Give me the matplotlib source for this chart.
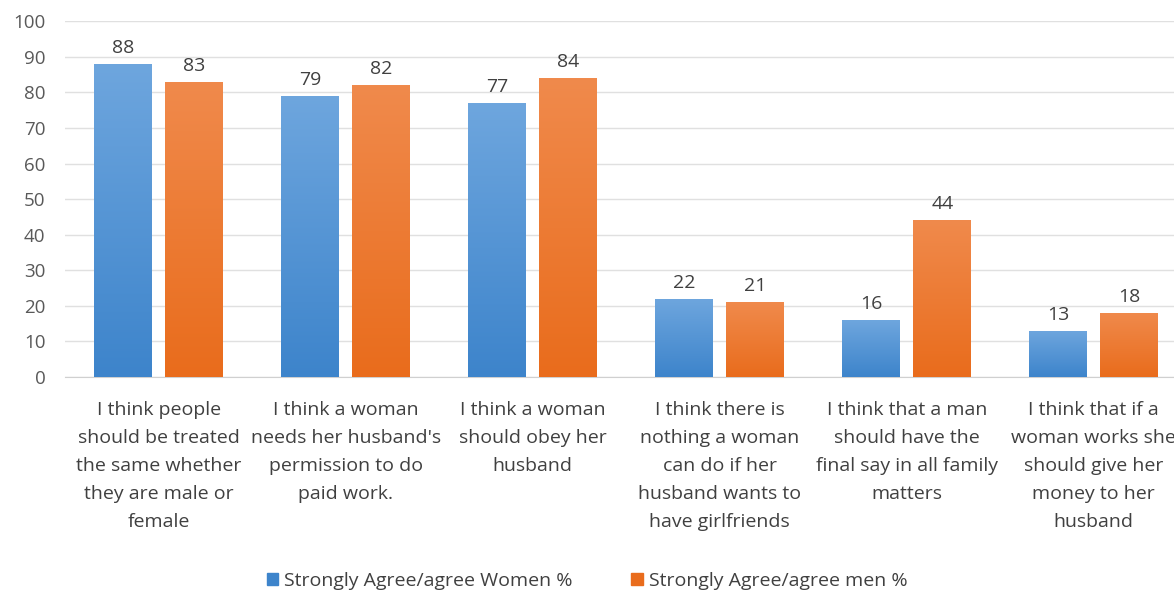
import matplotlib.pyplot as plt
import numpy as np
from matplotlib.colors import LinearSegmentedColormap
from matplotlib.patches import Patch

plt.rcParams['font.family'] = ['Open Sans', 'DejaVu Sans']

categories = ["I think people\nshould be treated\nthe same whether\nthey are male or\nfemale",
              "I think a woman\nneeds her husband's\npermission to do\npaid work.",
              "I think a woman\nshould obey her\nhusband",
              "I think there is\nnothing a woman\ncan do if her\nhusband wants to\nhave girlfriends",
              "I think that a man\nshould have the\nfinal say in all family\nmatters",
              "I think that if a\nwoman works she\nshould give her\nmoney to her\nhusband"]
women = [88, 79, 77, 22, 16, 13]
men = [83, 82, 84, 21, 44, 18]
series_names = ['Strongly Agree/agree Women %', 'Strongly Agree/agree men %']

blue_top, blue_bot = '#6ea6de', '#3d84cb'
orange_top, orange_bot = '#f08a4c', '#e96c1c'

fig = plt.figure(figsize=(11.74, 5.90), dpi=100)
ax = fig.add_axes([0.0554, 0.361, 0.956, 0.603])

x = np.arange(len(categories))
w = 0.31
b1 = ax.bar(x - 0.19, women, w, color=blue_bot, zorder=2)
b2 = ax.bar(x + 0.19, men, w, color=orange_bot, zorder=2)

# vertical gradient inside each bar
grad = np.linspace(0, 1, 256).reshape(-1, 1)
for bars, top, bot in [(b1, blue_top, blue_bot), (b2, orange_top, orange_bot)]:
    cmap = LinearSegmentedColormap.from_list('g', [bot, top])
    for r in bars:
        x0, y0 = r.get_x(), r.get_y()
        im = ax.imshow(grad, cmap=cmap, aspect='auto', origin='lower',
                       extent=[x0, x0 + r.get_width(), y0, y0 + r.get_height()], zorder=3)
        im.set_clip_path(r)
    for r in bars:
        ax.text(r.get_x() + r.get_width() / 2, r.get_height() + 2.0, f'{r.get_height():.0f}',
                ha='center', va='bottom', fontsize=14, color='#404040')

ax.set_xlim(-0.5, len(categories) - 0.5)
ax.set_ylim(0, 100)
ax.set_yticks(range(0, 101, 10))
ax.yaxis.grid(True, color='#e0e0e0', lw=1, zorder=0)
ax.set_axisbelow(True)
for s in ['top', 'right', 'left']:
    ax.spines[s].set_visible(False)
ax.spines['bottom'].set_color('#d0d0d0')
ax.tick_params(axis='y', length=0, labelsize=13.5, labelcolor='#595959', pad=14)
ax.tick_params(axis='x', length=0, labelsize=14, labelcolor='#404040', pad=17)
ax.set_xticks(x)
ax.set_xticklabels(categories, linespacing=1.72)

handles = [Patch(color=blue_bot), Patch(color=orange_bot)]
fig.legend(handles, series_names, loc='center', bbox_to_anchor=(0.50, 0.015), ncol=2,
           frameon=False, fontsize=14, handlelength=0.6, handleheight=0.6,
           handletextpad=0.3, columnspacing=3, labelcolor='#404040')

fig.savefig('out.png', dpi=100)
